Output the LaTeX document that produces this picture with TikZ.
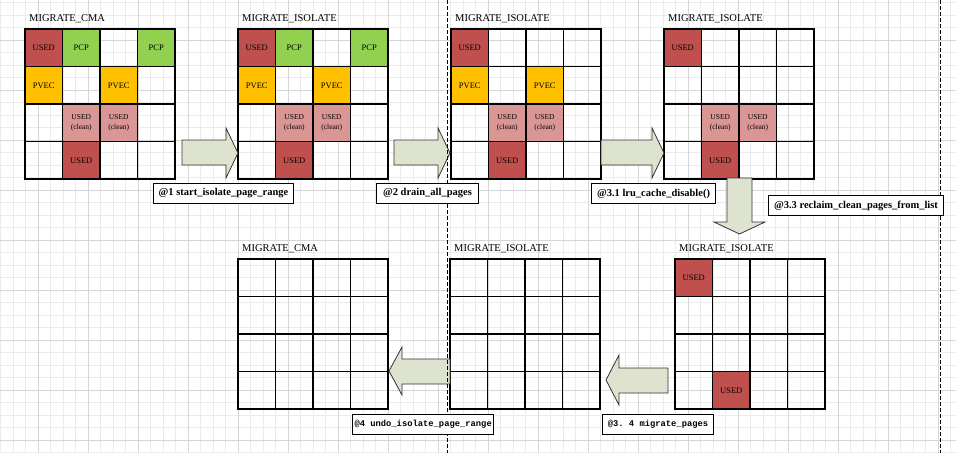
\documentclass[tikz,border=0pt]{standalone}
\usepackage{fontspec}
\setmainfont{Liberation Serif}
\setmonofont{Liberation Mono}
\definecolor{usedred}{HTML}{C0504D}
\definecolor{pcpgreen}{HTML}{92D050}
\definecolor{pvecorange}{HTML}{FFC000}
\definecolor{cleanpink}{HTML}{DA9694}
\definecolor{arrowfill}{HTML}{DDE3CF}
\definecolor{minorgrid}{HTML}{EBEBEB}
\definecolor{majorgrid}{HTML}{D6D6D6}
\begin{document}
\begin{tikzpicture}[x=1pt,y=-1pt,
  cellline/.style={line width=1.2pt},
  cell/.style={draw,line width=1.2pt,minimum size=37.5pt,inner sep=0pt,align=center},
  gridtitle/.style={anchor=base west,inner sep=0pt,font=\fontsize{10.5}{12}\selectfont},
  blockarrow/.style={fill=arrowfill,draw=black!80,line width=0.8pt,line join=miter},
  sepline/.style={line width=1pt,dash pattern=on 4pt off 2pt},
  steplabel/.style={draw,fill=white,line width=1pt,minimum height=20pt,inner sep=2pt,anchor=north west,font=\bfseries\fontsize{10.5}{12}\selectfont},
  monolabel/.style={steplabel,font=\ttfamily\bfseries\fontsize{8.8}{10}\selectfont}]
\useasboundingbox (0,0) rectangle (956,453);
\clip (0,0) rectangle (956,453);
\foreach \k in {0,...,76} \draw[minorgrid,line width=0.8pt] (0.5+12.5*\k,0) -- (0.5+12.5*\k,453);
\foreach \k in {0,...,36} \draw[minorgrid,line width=0.8pt] (0,2.5+12.5*\k) -- (956,2.5+12.5*\k);
\foreach \m in {0,...,18} \draw[majorgrid,line width=0.8pt] (38+50*\m,0) -- (38+50*\m,453);
\foreach \m in {0,...,8} \draw[majorgrid,line width=0.8pt] (0,40+50*\m) -- (956,40+50*\m);
\foreach \gx/\gy in {25/29,238/29,451/29,664/29,238/259,450/259,675/259}
  \foreach \c in {0,...,3} \foreach \r in {0,...,3}
    \draw[cellline] (\gx+37.5*\c,\gy+37.5*\r) rectangle ++(37.5,37.5);
\node[gridtitle] (cma1) at (29,21) {MIGRATE\_CMA};
\node[gridtitle] (iso1) at (242,21) {MIGRATE\_ISOLATE};
\node[gridtitle] (iso2) at (455,21) {MIGRATE\_ISOLATE};
\node[gridtitle] (iso3) at (668,21) {MIGRATE\_ISOLATE};
\node[gridtitle] (cma2) at (242,251) {MIGRATE\_CMA};
\node[gridtitle] (iso5) at (454,251) {MIGRATE\_ISOLATE};
\node[gridtitle] (iso4) at (679,251) {MIGRATE\_ISOLATE};
\foreach \gx/\gy/\c/\r/\k/\t in {
  25/29/0/0/usedred/USED,25/29/1/0/pcpgreen/PCP,25/29/3/0/pcpgreen/PCP,
  25/29/0/1/pvecorange/PVEC,25/29/2/1/pvecorange/PVEC,25/29/1/3/usedred/USED,
  238/29/0/0/usedred/USED,238/29/1/0/pcpgreen/PCP,238/29/3/0/pcpgreen/PCP,
  238/29/0/1/pvecorange/PVEC,238/29/2/1/pvecorange/PVEC,238/29/1/3/usedred/USED,
  451/29/0/0/usedred/USED,451/29/0/1/pvecorange/PVEC,451/29/2/1/pvecorange/PVEC,
  451/29/1/3/usedred/USED,
  664/29/0/0/usedred/USED,664/29/1/3/usedred/USED,
  675/259/0/0/usedred/USED,675/259/1/3/usedred/USED}
  \node[cell,fill=\k,font=\fontsize{8.5}{10}\selectfont] (p-\gx-\gy-\c-\r) at (\gx+37.5*\c+18.75,\gy+37.5*\r+18.75) {\t};
\foreach \gx/\gy/\c in {25/29/1,25/29/2,238/29/1,238/29/2,451/29/1,451/29/2,664/29/1,664/29/2}
  \node[cell,fill=cleanpink,font=\fontsize{7.5}{10.5}\selectfont] (c-\gx-\gy-\c) at (\gx+37.5*\c+18.75,\gy+93.75) {USED\\(clean)};
\filldraw[blockarrow] (182,140) -- (226,140) -- (226,128) -- (238,153) -- (226,178) -- (226,165) -- (182,165) -- cycle;
\filldraw[blockarrow] (394,140) -- (438,140) -- (438,128) -- (450,153) -- (438,178) -- (438,165) -- (394,165) -- cycle;
\filldraw[blockarrow] (601,140) -- (652,140) -- (652,128) -- (664,153) -- (652,178) -- (652,165) -- (601,165) -- cycle;
\filldraw[blockarrow] (727,178) -- (727,222) -- (714,222) -- (739.5,234) -- (765,222) -- (752,222) -- (752,178) -- cycle;
\filldraw[blockarrow] (668,368) -- (619,368) -- (619,355) -- (606,380) -- (619,405) -- (619,393) -- (668,393) -- cycle;
\filldraw[blockarrow] (450,359) -- (402,359) -- (402,347) -- (389,371) -- (402,395) -- (402,384) -- (450,384) -- cycle;
\draw[sepline] (447,0) -- (447,453);
\draw[sepline] (940,0) -- (940,453);
\node[steplabel,minimum width=140pt] (s1) at (153,183) {@1 start\_isolate\_page\_range};
\node[steplabel,minimum width=102pt] (s2) at (376,183) {@2 drain\_all\_pages};
\node[steplabel,minimum width=124pt] (s31) at (591,183) {@3.1 lru\_cache\_disable()};
\node[steplabel,minimum width=175pt] (s33) at (768,195) {@3.3 reclaim\_clean\_pages\_from\_list};
\node[monolabel,minimum width=111pt] (s34) at (602,414) {@3. 4 migrate\_pages};
\node[monolabel,minimum width=140pt] (s4) at (352,414) {@4 undo\_isolate\_page\_range};
\end{tikzpicture}
\end{document}
